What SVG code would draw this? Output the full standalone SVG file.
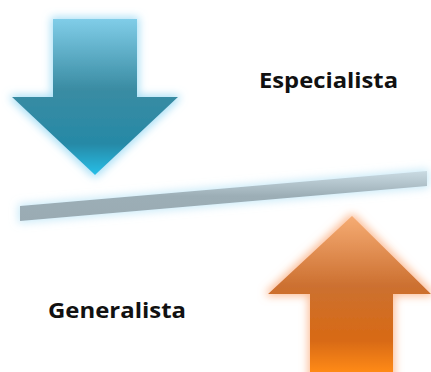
<svg xmlns="http://www.w3.org/2000/svg" width="431" height="372" viewBox="0 0 431 372">
<style>
.lbl{font-family:"Open Sans","Liberation Sans",sans-serif;font-weight:bold;font-size:22px;fill:#111}
</style>
<defs>
<linearGradient id="gBlue" x1="0" y1="19" x2="0" y2="175" gradientUnits="userSpaceOnUse">
<stop offset="0" stop-color="#80cde8"/>
<stop offset="0.45" stop-color="#3a8ca3"/>
<stop offset="0.8" stop-color="#2689a6"/>
<stop offset="1" stop-color="#25bfe8"/>
</linearGradient>
<linearGradient id="gOrange" x1="0" y1="216" x2="0" y2="372" gradientUnits="userSpaceOnUse">
<stop offset="0" stop-color="#f6ac74"/>
<stop offset="0.45" stop-color="#cc7030"/>
<stop offset="0.8" stop-color="#d86a14"/>
<stop offset="1" stop-color="#ff8a12"/>
</linearGradient>
<linearGradient id="gBar" x1="0" y1="0" x2="0" y2="1">
<stop offset="0" stop-color="#cadbe3"/>
<stop offset="0.5" stop-color="#9caeb6"/>
<stop offset="1" stop-color="#9aabb3"/>
</linearGradient>
<filter id="glowB" x="-20%" y="-20%" width="140%" height="140%">
<feMorphology in="SourceAlpha" operator="dilate" radius="2" result="d"/>
<feGaussianBlur in="d" stdDeviation="4" result="b"/>
<feFlood flood-color="#9fdcf5" flood-opacity="0.9"/>
<feComposite in2="b" operator="in" result="g"/>
<feMerge><feMergeNode in="g"/><feMergeNode in="SourceGraphic"/></feMerge>
</filter>
<filter id="glowO" x="-20%" y="-20%" width="140%" height="140%">
<feMorphology in="SourceAlpha" operator="dilate" radius="2" result="d"/>
<feGaussianBlur in="d" stdDeviation="4" result="b"/>
<feFlood flood-color="#fbb68c" flood-opacity="0.9"/>
<feComposite in2="b" operator="in" result="g"/>
<feMerge><feMergeNode in="g"/><feMergeNode in="SourceGraphic"/></feMerge>
</filter>
<filter id="glowBar" x="-10%" y="-100%" width="120%" height="300%">
<feMorphology in="SourceAlpha" operator="dilate" radius="2" result="d"/>
<feGaussianBlur in="d" stdDeviation="4" result="b"/>
<feFlood flood-color="#bfe6f7" flood-opacity="0.8"/>
<feComposite in2="b" operator="in" result="g"/>
<feMerge><feMergeNode in="g"/><feMergeNode in="SourceGraphic"/></feMerge>
</filter>
</defs>
<g id="arrow-down">
<polygon points="53,19 137,19 137,97 178,97 95,175 12,97 53,97" fill="url(#gBlue)" filter="url(#glowB)"/>
</g>
<g id="bar">
<polygon points="20,206 427,171 427,186 20,221" fill="url(#gBar)" filter="url(#glowBar)"/>
</g>
<g id="arrow-up">
<polygon points="352,216 431,294 393,294 393,380 310,380 310,294 268,294" fill="url(#gOrange)" filter="url(#glowO)"/>
</g>
<g id="especialista">
<text class="lbl" x="259" y="88" textLength="139" lengthAdjust="spacingAndGlyphs">Especialista</text>
</g>
<g id="generalista">
<text class="lbl" x="48" y="318" textLength="138" lengthAdjust="spacingAndGlyphs">Generalista</text>
</g>
</svg>
